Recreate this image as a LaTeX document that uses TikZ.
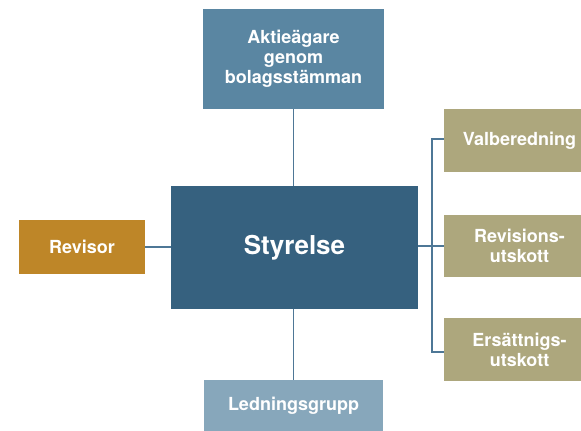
\documentclass[tikz,border=0pt]{standalone}
\usepackage{fontspec}
\setmainfont{TeX Gyre Heros}
\definecolor{topblue}{HTML}{5A86A2}
\definecolor{darkblue}{HTML}{36617F}
\definecolor{lightblue}{HTML}{87A7BB}
\definecolor{ochre}{HTML}{BE8628}
\definecolor{olive}{HTML}{ADA77D}
\definecolor{linecol}{HTML}{4E7796}
\begin{document}
\begin{tikzpicture}[x=1pt,y=-1pt,
  box/.style={rectangle,inner sep=0pt,text=white,align=center,
    font=\bfseries\fontsize{18}{20}\selectfont},
  conn/.style={draw=linecol,line width=1.2pt}]
\useasboundingbox[fill=white] (0,0) rectangle (581,431);
\node[box,fill=topblue,minimum width=181pt,minimum height=100pt] (top) at (293.5,58.5) {Aktieägare\\genom\\bolagsstämman};
\node[box,fill=darkblue,minimum width=247pt,minimum height=123pt,font=\bfseries\fontsize{26}{30}\selectfont] (sty) at (294.5,247.5) {Styrelse};
\node[box,fill=ochre,minimum width=126pt,minimum height=54pt] (rev) at (82,247) {Revisor};
\node[box,fill=lightblue,minimum width=179pt,minimum height=51pt] (led) at (293.5,405.5) {Ledningsgrupp};
\node[box,fill=olive,minimum width=151pt,minimum height=63pt] (val) at (519.5,140.5) {Valberedning};
\node[box,fill=olive,minimum width=151pt,minimum height=62pt] (ris) at (519.5,246) {Revisions-\\utskott};
\node[box,fill=olive,minimum width=151pt,minimum height=63pt] (ers) at (519.5,349.5) {Ersättnigs-\\utskott};
\coordinate (bt) at (432,139);
\coordinate (bm) at (432,246);
\coordinate (bb) at (432,352);
\draw[conn] (top.south) -- (top.south |- sty.north);
\draw[conn] (led.north) -- (led.north |- sty.south);
\draw[conn] (rev.east) -- (rev.east -| sty.west);
\draw[conn] (sty.east |- bm) -- (bm) -- (ris.west |- bm);
\draw[conn] (val.west |- bt) -- (bt) -- (bb) -- (ers.west |- bb);
\end{tikzpicture}
\end{document}
